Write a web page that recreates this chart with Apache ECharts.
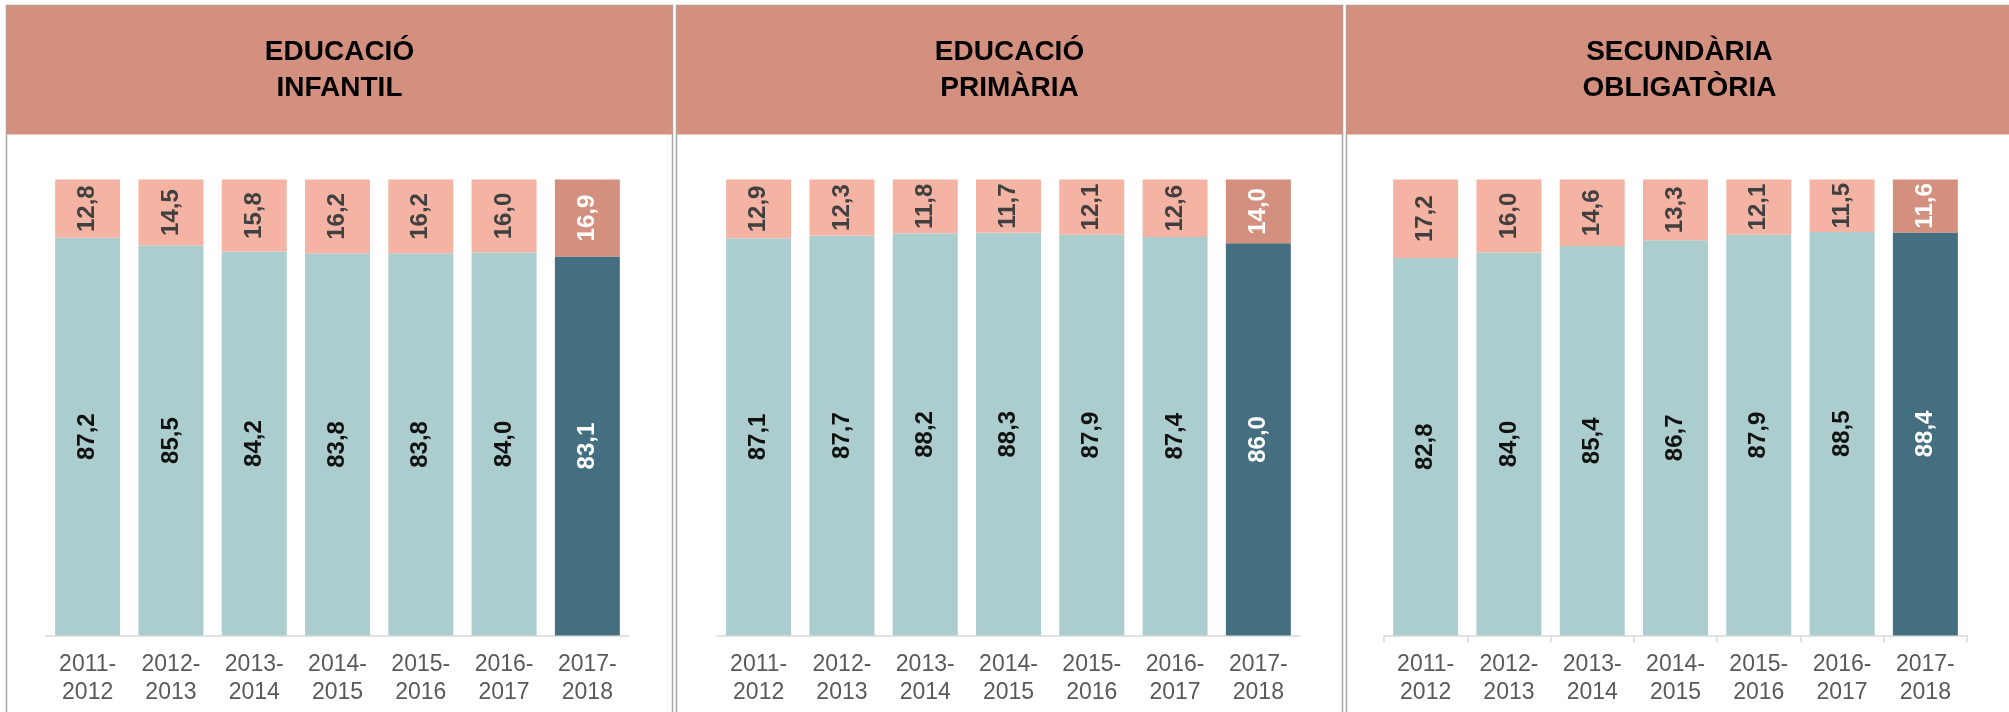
<!DOCTYPE html>
<html>
<head>
<meta charset="utf-8">
<script src="https://cdn.jsdelivr.net/npm/echarts@6/dist/echarts.min.js"></script>
<style>
html,body{margin:0;padding:0;background:#fff;}
#c{width:2009px;height:712px;}
</style>
</head>
<body>
<div id="c"></div>
<script>
const categories = ['2011-\n2012','2012-\n2013','2013-\n2014','2014-\n2015','2015-\n2016','2016-\n2017','2017-\n2018'];
const panelTitles = ['EDUCACIÓ\nINFANTIL','EDUCACIÓ\nPRIMÀRIA','SECUNDÀRIA\nOBLIGATÒRIA'];
const infantilMain = [87.2, 85.5, 84.2, 83.8, 83.8, 84.0, 83.1];
const infantilRest = [12.8, 14.5, 15.8, 16.2, 16.2, 16.0, 16.9];
const primariaMain = [87.1, 87.7, 88.2, 88.3, 87.9, 87.4, 86.0];
const primariaRest = [12.9, 12.3, 11.8, 11.7, 12.1, 12.6, 14.0];
const secundariaMain = [82.8, 84.0, 85.4, 86.7, 87.9, 88.5, 88.4];
const secundariaRest = [17.2, 16.0, 14.6, 13.3, 12.1, 11.5, 11.6];

const mainSets = [infantilMain, primariaMain, secundariaMain];
const restSets = [infantilRest, primariaRest, secundariaRest];

const C_HEADER = '#D4907F';
const C_REST = '#F4B3A3';
const C_MAIN = '#ABCDCE';
const C_MAIN_LAST = '#436F81';
const C_REST_LAST = '#D4907F';

const panelX = [6.5, 676.5, 1346.5];
const panelW = [666, 666, 670];
const gridLeft = [46, 717, 1384];
const gridW = 583;
const gridTop = 179.5;
const gridH = 456;

const fmt = v => v.toFixed(1).replace('.', ',');

function mkData(arr, lastColor) {
  return arr.map((v, i) => {
    if (i === arr.length - 1) {
      return { value: v, itemStyle: { color: lastColor }, label: { color: '#ffffff' } };
    }
    return v;
  });
}

const grids = [], xAxes = [], yAxes = [], series = [], graphics = [];
for (let p = 0; p < 3; p++) {
  grids.push({ left: gridLeft[p], top: gridTop, width: gridW, height: gridH });
  xAxes.push({
    type: 'category', gridIndex: p, data: categories,
    axisLine: { lineStyle: { color: '#d9d9d9', width: 1.5 } },
    axisTick: { show: p === 2, length: 7, lineStyle: { color: '#d9d9d9', width: 1.5 } },
    axisLabel: { color: '#595959', fontSize: 23, fontFamily: 'Liberation Sans, Arial, sans-serif', lineHeight: 28, margin: 15, interval: 0 }
  });
  yAxes.push({ type: 'value', gridIndex: p, min: 0, max: 100, show: false, splitLine: { show: false } });
  series.push({
    type: 'bar', xAxisIndex: p, yAxisIndex: p, stack: 's' + p, barWidth: '78%',
    data: mkData(mainSets[p], C_MAIN_LAST),
    itemStyle: { color: C_MAIN },
    label: { show: true, position: 'inside', rotate: 90, formatter: q => fmt(q.value), color: '#111', fontSize: 24, fontWeight: 'bold', fontFamily: 'Liberation Sans, Arial, sans-serif' }
  });
  series.push({
    type: 'bar', xAxisIndex: p, yAxisIndex: p, stack: 's' + p, barWidth: '78%',
    data: mkData(restSets[p], C_REST_LAST),
    itemStyle: { color: C_REST },
    label: { show: true, position: 'inside', rotate: 90, formatter: q => fmt(q.value), color: '#404040', fontSize: 24, fontWeight: 'bold', fontFamily: 'Liberation Sans, Arial, sans-serif' }
  });
  graphics.push({
    type: 'rect', shape: { x: panelX[p], y: 5.5, width: panelW[p], height: 720 },
    style: { fill: 'none', stroke: '#a6a6a6', lineWidth: 1.5 }, z: 1
  });
  graphics.push({
    type: 'rect', shape: { x: panelX[p], y: 5.5, width: panelW[p], height: 129 },
    style: { fill: C_HEADER, stroke: C_HEADER, lineWidth: 0 }, z: 2
  });
  graphics.push({
    type: 'text', x: panelX[p] + 333, y: 70, z: 3,
    style: { text: panelTitles[p], fill: '#000', font: 'bold 28px "Liberation Sans", Arial, sans-serif', lineHeight: 36, align: 'center', verticalAlign: 'middle' }
  });
}

const chart = echarts.init(document.getElementById('c'), null, { renderer: 'canvas' });
chart.setOption({
  animation: false,
  backgroundColor: '#ffffff',
  grid: grids, xAxis: xAxes, yAxis: yAxes, series: series,
  graphic: graphics
});
</script>
</body>
</html>
